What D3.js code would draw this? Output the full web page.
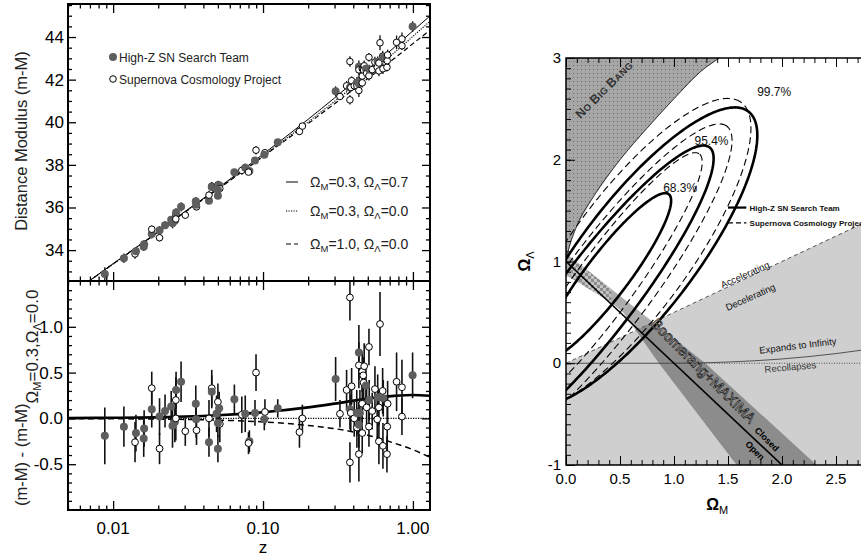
<!DOCTYPE html>
<html><head><meta charset="utf-8">
<script src="https://cdn.jsdelivr.net/npm/d3@7"></script>
<style>
body{margin:0;background:#fff}
text{font-family:"Liberation Sans",Arial,sans-serif}
</style></head>
<body><svg id="c" width="861" height="556"></svg>
<script>
// ================= LEFT PANEL DATA =================
const zMajorTicks = [0.01, 0.1, 1];
const zTickLabels = ["0.01", "0.10", "1.00"];
const zMinorTicks = [0.005,0.006,0.007,0.008,0.009,0.02,0.03,0.04,0.05,0.06,0.07,0.08,0.09,0.2,0.3,0.4,0.5,0.6,0.7,0.8,0.9];
const muMajorTicks = [34, 36, 38, 40, 42, 44];
const muMinorTicks = [33,33.5,34.5,35,35.5,36.5,37,37.5,38.5,39,39.5,40.5,41,41.5,42.5,43,43.5,44.5,45,45.5];
const residMajorTicks = [-0.5, 0.0, 0.5, 1.0];
const residTickLabels = ["-0.5", "0.0", "0.5", "1.0"];
const residMinorTicks = [-0.9,-0.8,-0.7,-0.6,-0.4,-0.3,-0.2,-0.1,0.1,0.2,0.3,0.4,0.6,0.7,0.8,0.9,1.1,1.2,1.3,1.4];

// supernovae: redshift, residual vs (0.3,0.0), error, distance modulus, team (1 = High-Z, 0 = SCP)
const snZ = [0.0088,0.0118,0.0140,0.0142,0.0161,0.0160,0.0181,0.0181,0.0204,0.0204,0.0222,0.0244,0.0249,0.0262,0.0263,0.0284,0.0258,0.0262,0.0303,0.0356,0.0360,0.0358,0.0436,0.0436,0.0455,0.0455,0.0500,0.0500,0.0510,0.0490,0.0515,0.0500,0.0644,0.0722,0.0761,0.0811,0.0800,0.0898,0.0884,0.1030,0.1020,0.1254,0.175,0.183,
 0.305,0.326,0.361,0.390,0.380,0.380,0.380,0.385,0.406,0.422,0.423,0.436,0.436,0.436,0.436,0.443,0.459,0.459,0.459,0.466,0.469,0.473,0.486,0.491,0.509,0.509,0.511,0.535,0.558,0.578,0.582,0.593,0.593,0.603,0.628,0.631,0.634,0.671,0.674,0.678,0.778,0.845,0.845,0.995];
const snResid = [-0.19,-0.09,-0.26,-0.16,-0.11,-0.22,0.10,0.33,0.02,-0.33,0.08,0.13,-0.08,0.20,0.31,0.40,-0.04,0.00,-0.14,0.16,-0.13,-0.01,-0.26,0.00,0.33,0.29,0.18,-0.33,0.11,0.05,-0.06,-0.05,0.21,0.04,0.05,-0.25,-0.27,0.50,0.06,0.07,-0.01,0.11,-0.15,0.00,
 0.43,0.05,0.31,0.35,1.32,-0.48,0.10,0.06,0.00,0.06,-0.10,0.72,0.58,-0.07,-0.39,0.06,0.51,0.16,-0.16,0.47,0.39,0.57,0.36,0.12,0.78,-0.09,0.20,0.08,0.32,-0.01,0.23,0.12,-0.25,1.03,0.30,-0.30,0.22,-0.39,-0.09,0.16,0.40,0.34,0.02,0.47];
const snErr = [0.31,0.22,0.22,0.20,0.20,0.20,0.20,0.18,0.20,0.17,0.18,0.17,0.24,0.25,0.20,0.22,0.22,0.24,0.16,0.20,0.16,0.20,0.16,0.20,0.20,0.18,0.20,0.15,0.18,0.20,0.20,0.15,0.16,0.20,0.20,0.12,0.12,0.20,0.14,0.14,0.12,0.10,0.17,0.15,
 0.24,0.15,0.22,0.20,0.25,0.22,0.22,0.20,0.20,0.25,0.22,0.30,0.25,0.25,0.30,0.25,0.22,0.22,0.22,0.20,0.20,0.25,0.22,0.20,0.20,0.22,0.22,0.20,0.25,0.25,0.25,0.20,0.25,0.35,0.25,0.25,0.20,0.20,0.30,0.25,0.32,0.30,0.20,0.25];
const snMu = [32.88,33.62,33.82,33.95,34.28,34.16,34.75,34.98,34.93,34.58,35.17,35.43,35.26,35.66,35.77,36.03,35.38,35.46,35.64,36.29,36.03,36.13,36.32,36.58,37.00,36.96,37.06,36.55,37.04,36.89,36.89,36.83,37.65,37.74,37.87,37.71,37.66,38.69,38.21,38.57,38.47,39.06,39.57,39.82,
 41.45,41.21,41.71,41.95,42.85,41.05,41.63,41.63,41.71,41.86,41.71,42.60,42.46,41.81,41.49,41.98,42.52,42.17,41.85,42.52,42.45,42.65,42.51,42.30,43.05,42.18,42.48,42.47,42.82,42.58,42.84,42.78,42.41,43.73,43.10,42.51,43.04,42.58,42.89,43.16,43.75,43.91,43.59,44.49];
const snTeam = [1,1,0,1,1,1,1,0,1,0,1,1,1,0,1,1,1,0,0,1,0,1,1,0,0,1,0,1,1,1,0,1,1,0,1,1,0,0,1,0,1,1,0,0,
 1,0,0,0,0,0,1,0,0,1,0,1,0,1,0,1,0,0,0,0,0,0,1,0,0,0,1,0,0,0,1,0,0,0,0,0,1,0,0,0,0,0,0,1];

// cosmological model curves
const modelZ      = [0.005, 0.01, 0.02, 0.03, 0.05, 0.1, 0.2, 0.3, 0.5, 0.75, 1.0, 1.3];
const muSolid     = [31.84, 33.36, 34.87, 35.80, 36.91, 38.50, 40.14, 41.14, 42.45, 43.51, 44.29, 44.99];
const muDotted    = [31.84, 33.35, 34.86, 35.78, 36.88, 38.43, 40.02, 40.98, 42.23, 43.26, 44.03, 44.74];
const muDashed    = [31.84, 33.35, 34.85, 35.77, 36.86, 38.39, 39.94, 40.87, 42.05, 42.99, 43.69, 44.32];
const residSolid  = [0.003, 0.007, 0.013, 0.020, 0.034, 0.067, 0.120, 0.161, 0.216, 0.246, 0.256, 0.247];
const residDotted = [0, 0, 0, 0, 0, 0, 0, 0, 0, 0, 0, 0];
const residDashed = [-0.002, -0.004, -0.008, -0.011, -0.019, -0.038, -0.077, -0.112, -0.183, -0.270, -0.342, -0.425];

// ================= RIGHT PANEL DATA =================
const omTicks = [0, 0.5, 1.0, 1.5, 2.0, 2.5];
const omTickLabels = ["0.0", "0.5", "1.0", "1.5", "2.0", "2.5"];
const omMinorTicks = d3.range(0, 3.01, 0.1);
const olTicks = [-1, 0, 1, 2, 3];
const olTickLabels = ["-1", "0", "1", "2", "3"];
const olMinorTicks = d3.range(-1, 3.01, 0.1);

const decelM = [0, 3, 3, 0];
const decelL = [0, 1.5, -1, -1];
const nbbM = [0, 0.02, 0.1, 0.25, 0.5, 0.75, 1.0, 1.25, 1.42];
const nbbL = [1.0, 1.1, 1.35, 1.63, 2.0, 2.31, 2.6, 2.87, 3.0];
const expandM = [0, 1.0, 1.5, 2.0, 2.5, 3.0];
const expandL = [0, 0, 0.012, 0.042, 0.095, 0.17];
const flatM = [0, 2];
const flatL = [1, -1];
const bandM = [0, 1.29, 2.32, 1.58, 0.86, 0.53, 0.25, 0];
const bandL = [1.08, 0, -1, -1, 0, 0.50, 0.74, 0.86];
const checkM = [0.05, 0.42, 0.42, 0.05];
const checkL = [1.038, 0.727, 0.594, 0.836];

// confidence contours (ellipses in Ωm-ΩΛ): centre, semi-axes, orientation (deg)
const levelNames = ["68.3%", "95.4%", "99.7%"];
const levelM = [0.90, 1.19, 1.77];
const levelL = [1.68, 2.145, 2.63];
const hzCM = [0.376, 0.306, 0.661], hzCL = [0.856, 0.690, 1.046];
const hzA = [0.99, 1.76, 1.76], hzB = [0.205, 0.36, 0.54], hzAngle = [54.6, 54.6, 54.6];
const scpCM = [0.361, 0.389, 0.58], scpCL = [0.789, 0.769, 1.06];
const scpA = [1.54, 1.91, 1.83], scpB = [0.28, 0.42, 0.56], scpAngle = [55.6, 55.0, 55.6];

// ================= DRAWING =================
const svg = d3.select("#c");
const defs = svg.append("defs");

const x = d3.scaleLog().domain([0.005, 1.3]).range([68, 430]);
const yTop = d3.scaleLinear().domain([32.55, 45.55]).range([281, 4]);
const yBot = d3.scaleLinear().domain([-1.0, 1.5]).range([510, 281]);

defs.append("clipPath").attr("id","clipTop").append("rect").attr("x",68).attr("y",4).attr("width",362).attr("height",277);
defs.append("clipPath").attr("id","clipBot").append("rect").attr("x",68).attr("y",281).attr("width",362).attr("height",229);

const ptsIdx = d3.range(snZ.length);

// ---------- top panel
const gT = svg.append("g").attr("clip-path","url(#clipTop)");
const lineTop = d3.line().x((d,i)=>x(modelZ[i])).y(d=>yTop(d)).curve(d3.curveMonotoneX);
gT.append("path").attr("d",lineTop(muDashed)).attr("fill","none").attr("stroke","#000").attr("stroke-width",1.2).attr("stroke-dasharray","5,3");
gT.append("path").attr("d",lineTop(muDotted)).attr("fill","none").attr("stroke","#000").attr("stroke-width",1.1).attr("stroke-dasharray","1.2,1.3");
gT.append("path").attr("d",lineTop(muSolid)).attr("fill","none").attr("stroke","#000").attr("stroke-width",1);
gT.selectAll("line.eb").data(ptsIdx).join("line")
  .attr("x1",i=>x(snZ[i])).attr("x2",i=>x(snZ[i]))
  .attr("y1",i=>yTop(snMu[i]-snErr[i])).attr("y2",i=>yTop(snMu[i]+snErr[i]))
  .attr("stroke","#111").attr("stroke-width",1.3);
gT.selectAll("circle.pt").data(ptsIdx).join("circle")
  .attr("cx",i=>x(snZ[i])).attr("cy",i=>yTop(snMu[i])).attr("r",i=>snTeam[i]?4:3.3)
  .attr("fill",i=>snTeam[i]?"#5e5e5e":"#fff").attr("stroke",i=>snTeam[i]?"none":"#000").attr("stroke-width",1);

// ---------- bottom panel
const gB = svg.append("g").attr("clip-path","url(#clipBot)");
const lineBot = d3.line().x((d,i)=>x(modelZ[i])).y(d=>yBot(d)).curve(d3.curveMonotoneX);
gB.append("path").attr("d",lineBot(residDotted)).attr("fill","none").attr("stroke","#000").attr("stroke-width",1.1).attr("stroke-dasharray","1.2,1.3");
gB.append("path").attr("d",lineBot(residDashed)).attr("fill","none").attr("stroke","#000").attr("stroke-width",1.5).attr("stroke-dasharray","6,4");
gB.append("path").attr("d",lineBot(residSolid)).attr("fill","none").attr("stroke","#000").attr("stroke-width",2.6);
gB.selectAll("line.eb").data(ptsIdx).join("line")
  .attr("x1",i=>x(snZ[i])).attr("x2",i=>x(snZ[i]))
  .attr("y1",i=>yBot(snResid[i]-snErr[i])).attr("y2",i=>yBot(snResid[i]+snErr[i]))
  .attr("stroke","#111").attr("stroke-width",1.6);
gB.selectAll("circle.pt").data(ptsIdx).join("circle")
  .attr("cx",i=>x(snZ[i])).attr("cy",i=>yBot(snResid[i])).attr("r",i=>snTeam[i]?4:3.4)
  .attr("fill",i=>snTeam[i]?"#5e5e5e":"#fff").attr("stroke",i=>snTeam[i]?"none":"#000").attr("stroke-width",1);

// ---------- left axes
function styleAxis(g){ g.select(".domain").remove(); g.selectAll(".tick line").attr("stroke","#000").attr("stroke-width",1.3); g.selectAll("text").remove(); }
function xTicks(yy, axisFn){
  svg.append("g").attr("transform",`translate(0,${yy})`).call(axisFn(x).tickValues(zMajorTicks).tickSize(-9)).call(styleAxis);
  svg.append("g").attr("transform",`translate(0,${yy})`).call(axisFn(x).tickValues(zMinorTicks).tickSize(-4.5)).call(styleAxis);
}
xTicks(4, d3.axisTop);
xTicks(281, d3.axisBottom);
xTicks(281, d3.axisTop);
xTicks(510, d3.axisBottom);
[[68, d3.axisLeft],[430, d3.axisRight]].forEach(([xx, ax])=>{
  svg.append("g").attr("transform",`translate(${xx},0)`).call(ax(yTop).tickValues(muMajorTicks).tickSize(-8)).call(styleAxis);
  svg.append("g").attr("transform",`translate(${xx},0)`).call(ax(yTop).tickValues(muMinorTicks).tickSize(-4)).call(styleAxis);
  svg.append("g").attr("transform",`translate(${xx},0)`).call(ax(yBot).tickValues(residMajorTicks).tickSize(-8)).call(styleAxis);
  svg.append("g").attr("transform",`translate(${xx},0)`).call(ax(yBot).tickValues(residMinorTicks).tickSize(-4)).call(styleAxis);
});
svg.append("rect").attr("x",68).attr("y",4).attr("width",362).attr("height",277).attr("fill","none").attr("stroke","#000").attr("stroke-width",2);
svg.append("rect").attr("x",68).attr("y",281).attr("width",362).attr("height",229).attr("fill","none").attr("stroke","#000").attr("stroke-width",2);

svg.selectAll("text.mu").data(muMajorTicks).join("text").attr("x",64).attr("y",d=>yTop(d)+6)
  .attr("text-anchor","end").attr("font-size",17).text(d=>d);
svg.selectAll("text.rs").data(residMajorTicks).join("text").attr("x",63).attr("y",d=>yBot(d)+6)
  .attr("text-anchor","end").attr("font-size",17).text((d,i)=>residTickLabels[i]);
svg.selectAll("text.zl").data(zMajorTicks).join("text").attr("x",d=>x(d)).attr("y",534)
  .attr("text-anchor","middle").attr("font-size",17).text((d,i)=>zTickLabels[i]);
svg.append("text").attr("x",x(0.1)).attr("y",553).attr("text-anchor","middle").attr("font-size",17).text("z");
svg.append("text").attr("transform","translate(27,141) rotate(-90)").attr("text-anchor","middle").attr("font-size",16.5).attr("fill","#222").text("Distance Modulus (m-M)");
const yl2 = svg.append("text").attr("transform","translate(27,506) rotate(-90)").attr("font-size",16.5).attr("fill","#222");
yl2.append("tspan").text("(m-M) - (m-M)");
yl2.append("tspan").attr("dy",11).attr("font-size",17).text("Ω");
yl2.append("tspan").attr("dy",3).attr("font-size",11).text("M");
yl2.append("tspan").attr("dy",-3).attr("font-size",17).text("=0.3,Ω");
yl2.append("tspan").attr("dy",3).attr("font-size",11).text("Λ");
yl2.append("tspan").attr("dy",-3).attr("font-size",17).text("=0.0");

// legend (teams)
svg.append("circle").attr("cx",113).attr("cy",57).attr("r",4).attr("fill","#5e5e5e");
svg.append("text").attr("x",119).attr("y",61.5).attr("font-size",12).attr("fill","#222").text("High-Z SN Search Team");
svg.append("circle").attr("cx",113).attr("cy",79).attr("r",3.3).attr("fill","#fff").attr("stroke","#000");
svg.append("text").attr("x",119).attr("y",83.5).attr("font-size",12).attr("fill","#222").text("Supernova Cosmology Project");
// legend (models)
const modelLeg = [["0.3","0.7",null,1],["0.3","0.0","1.2,1.3",1.1],["1.0","0.0","5,3",1.2]];
const legY = [182, 211, 244];
modelLeg.forEach((m,i)=>{
  svg.append("line").attr("x1",286).attr("x2",298).attr("y1",legY[i]).attr("y2",legY[i]).attr("stroke","#000").attr("stroke-width",m[3]).attr("stroke-dasharray",m[2]);
  const t = svg.append("text").attr("x",310).attr("y",legY[i]+5).attr("font-size",14).attr("fill","#222");
  t.append("tspan").text("Ω");
  t.append("tspan").attr("dy",3).attr("font-size",9.5).text("M");
  t.append("tspan").attr("dy",-3).text("="+m[0]+",  Ω");
  t.append("tspan").attr("dy",3).attr("font-size",9.5).text("Λ");
  t.append("tspan").attr("dy",-3).text("="+m[1]);
});

// ================= RIGHT PANEL =================
const xR = d3.scaleLinear().domain([0, 3]).range([566, 890]);
const yR = d3.scaleLinear().domain([-1, 3]).range([465, 58]);
defs.append("clipPath").attr("id","clipR").append("rect").attr("x",566).attr("y",58).attr("width",324).attr("height",407);
const pDots = defs.append("pattern").attr("id","dots").attr("width",4).attr("height",4).attr("patternUnits","userSpaceOnUse");
pDots.append("rect").attr("width",4).attr("height",4).attr("fill","#a6a6a6");
pDots.append("rect").attr("x",1).attr("y",1).attr("width",1).attr("height",1).attr("fill","#6a6a6a");
const pChk = defs.append("pattern").attr("id","chk").attr("width",6).attr("height",6).attr("patternUnits","userSpaceOnUse");
pChk.append("rect").attr("width",6).attr("height",6).attr("fill","#c4c4c4");
pChk.append("rect").attr("width",3).attr("height",3).attr("fill","#8c8c8c");
pChk.append("rect").attr("x",3).attr("y",3).attr("width",3).attr("height",3).attr("fill","#8c8c8c");

const gR = svg.append("g").attr("clip-path","url(#clipR)");
const poly = (M,L)=> d3.line()(M.map((m,i)=>[xR(m), yR(L[i])])) + "Z";
const lineR = (M,L)=> d3.line().curve(d3.curveMonotoneX)(M.map((m,i)=>[xR(m), yR(L[i])]));
gR.append("path").attr("d",poly(decelM,decelL)).attr("fill","#cfcfcf");
gR.append("path").attr("d", poly(nbbM.concat([0]), nbbL.concat([3]))).attr("fill","url(#dots)");
gR.append("path").attr("d", lineR(nbbM, nbbL)).attr("fill","none").attr("stroke","#222").attr("stroke-width",0.9);
gR.append("path").attr("d",poly(bandM,bandL)).attr("fill","#000").attr("fill-opacity",0.32);
gR.append("path").attr("d",poly(checkM,checkL)).attr("fill","url(#chk)");
gR.append("path").attr("d",lineR(decelM.slice(0,2),decelL.slice(0,2))).attr("stroke","#555").attr("stroke-width",1).attr("stroke-dasharray","4,3").attr("fill","none");
gR.append("path").attr("d",lineR(expandM,expandL)).attr("stroke","#444").attr("stroke-width",0.9).attr("fill","none");
gR.append("path").attr("d",lineR([1,3],[0,0])).attr("stroke","#444").attr("stroke-width",0.9).attr("stroke-dasharray","1,1.5").attr("fill","none");
gR.append("path").attr("d",lineR(flatM,flatL)).attr("stroke","#000").attr("stroke-width",1.6).attr("fill","none");

function ellipsePath(cm, cl, a, b, deg){
  const th = deg*Math.PI/180, pts = [];
  for(let k=0;k<=240;k++){
    const t = 2*Math.PI*k/240, u = a*Math.cos(t), v = b*Math.sin(t);
    pts.push([xR(cm + u*Math.cos(th) - v*Math.sin(th)), yR(cl + u*Math.sin(th) + v*Math.cos(th))]);
  }
  return d3.line()(pts) + "Z";
}
levelNames.forEach((n,i)=>{
  gR.append("path").attr("d",ellipsePath(scpCM[i],scpCL[i],scpA[i],scpB[i],scpAngle[i])).attr("fill","none").attr("stroke","#000").attr("stroke-width",1.1).attr("stroke-dasharray","7,4");
  gR.append("path").attr("d",ellipsePath(hzCM[i],hzCL[i],hzA[i],hzB[i],hzAngle[i])).attr("fill","none").attr("stroke","#000").attr("stroke-width",2.6);
});

levelNames.forEach((n,i)=>{
  svg.append("text").attr("x",xR(levelM[i])).attr("y",yR(levelL[i])).attr("font-size",12).attr("fill","#111").text(n);
});
const nbb = svg.append("text").attr("transform",`translate(${xR(0.38)},${yR(2.66)}) rotate(-45)`).attr("text-anchor","middle")
  .attr("font-weight","bold").attr("fill","#333").attr("letter-spacing",0.4);
[["N",12.5],["O ",9.5],["B",12.5],["IG ",9.5],["B",12.5],["ANG",9.5]].forEach(p=>nbb.append("tspan").attr("font-size",p[1]).text(p[0]));
svg.append("text").attr("transform",`translate(${xR(1.67)},${yR(0.84)}) rotate(-24)`).attr("text-anchor","middle").attr("font-size",9.5).attr("fill","#111").text("Accelerating");
svg.append("text").attr("transform",`translate(${xR(1.72)},${yR(0.62)}) rotate(-24)`).attr("text-anchor","middle").attr("font-size",9.5).attr("fill","#111").text("Decelerating");
svg.append("text").attr("transform",`translate(${xR(2.15)},${yR(0.14)}) rotate(-7)`).attr("text-anchor","middle").attr("font-size",9.5).attr("fill","#111").text("Expands to Infinity");
svg.append("text").attr("transform",`translate(${xR(2.08)},${yR(-0.07)}) rotate(-5)`).attr("text-anchor","middle").attr("font-size",9.5).attr("fill","#333").text("Recollapses");
svg.append("text").attr("transform",`translate(${xR(1.24)},${yR(-0.11)}) rotate(45)`).attr("text-anchor","middle")
  .attr("font-size",14.5).attr("fill","#fff").attr("stroke","#222").attr("stroke-width",0.8).text("Boomerang+MAXIMA");
svg.append("text").attr("transform",`translate(${xR(1.84)},${yR(-0.77)}) rotate(45)`).attr("text-anchor","middle").attr("font-size",9).attr("font-weight","bold").attr("fill","#000").text("Closed");
svg.append("text").attr("transform",`translate(${xR(1.73)},${yR(-0.88)}) rotate(45)`).attr("text-anchor","middle").attr("font-size",9).attr("font-weight","bold").attr("fill","#000").text("Open");
svg.append("line").attr("x1",xR(1.50)).attr("x2",xR(1.67)).attr("y1",yR(1.53)).attr("y2",yR(1.53)).attr("stroke","#000").attr("stroke-width",2.2);
svg.append("text").attr("x",xR(1.70)).attr("y",yR(1.53)+3).attr("font-size",8).attr("font-weight","bold").attr("fill","#111").text("High-Z SN Search Team");
svg.append("line").attr("x1",xR(1.50)).attr("x2",xR(1.67)).attr("y1",yR(1.38)).attr("y2",yR(1.38)).attr("stroke","#000").attr("stroke-width",1.1).attr("stroke-dasharray","5,3");
svg.append("text").attr("x",xR(1.70)).attr("y",yR(1.38)+3).attr("font-size",8).attr("font-weight","bold").attr("fill","#111").text("Supernova Cosmology Project");

function styleAxisR(g){ g.select(".domain").remove(); g.selectAll(".tick line").attr("stroke","#000").attr("stroke-width",1); g.selectAll("text").remove(); }
svg.append("g").attr("transform","translate(0,465)").call(d3.axisBottom(xR).tickValues(omMinorTicks).tickSize(-5)).call(styleAxisR);
svg.append("g").attr("transform","translate(0,465)").call(d3.axisBottom(xR).tickValues(omTicks).tickSize(-9)).call(styleAxisR);
svg.append("g").attr("transform","translate(0,58)").call(d3.axisTop(xR).tickValues(omMinorTicks).tickSize(-5)).call(styleAxisR);
svg.append("g").attr("transform","translate(0,58)").call(d3.axisTop(xR).tickValues(omTicks).tickSize(-9)).call(styleAxisR);
svg.append("g").attr("transform","translate(566,0)").call(d3.axisLeft(yR).tickValues(olMinorTicks).tickSize(-5)).call(styleAxisR);
svg.append("g").attr("transform","translate(566,0)").call(d3.axisLeft(yR).tickValues(olTicks).tickSize(-9)).call(styleAxisR);
svg.append("path").attr("d",`M890,58H566V465H890`).attr("fill","none").attr("stroke","#000").attr("stroke-width",1.5);
svg.selectAll("text.om").data(omTicks).join("text").attr("x",d=>xR(d)).attr("y",484).attr("text-anchor","middle")
  .attr("font-family","Liberation Serif, serif").attr("font-size",15).text((d,i)=>omTickLabels[i]);
svg.selectAll("text.ol").data(olTicks).join("text").attr("x",561).attr("y",d=>yR(d)+5).attr("text-anchor","end")
  .attr("font-size",15).text((d,i)=>olTickLabels[i]);
const xlR = svg.append("text").attr("x",xR(1.4)).attr("y",510).attr("text-anchor","middle").attr("font-family","Liberation Serif, serif").attr("font-size",16).attr("font-weight","bold");
xlR.append("tspan").text("Ω"); xlR.append("tspan").attr("dy",4).attr("font-size",11).attr("font-weight","normal").attr("font-family","Liberation Sans").text("M");
const ylR = svg.append("text").attr("transform",`translate(530,${yR(1)}) rotate(-90)`).attr("text-anchor","middle").attr("font-family","Liberation Serif, serif").attr("font-size",16).attr("font-weight","bold");
ylR.append("tspan").text("Ω"); ylR.append("tspan").attr("dy",4).attr("font-size",11).attr("font-weight","normal").attr("font-family","Liberation Sans").text("Λ");
</script></body></html>
